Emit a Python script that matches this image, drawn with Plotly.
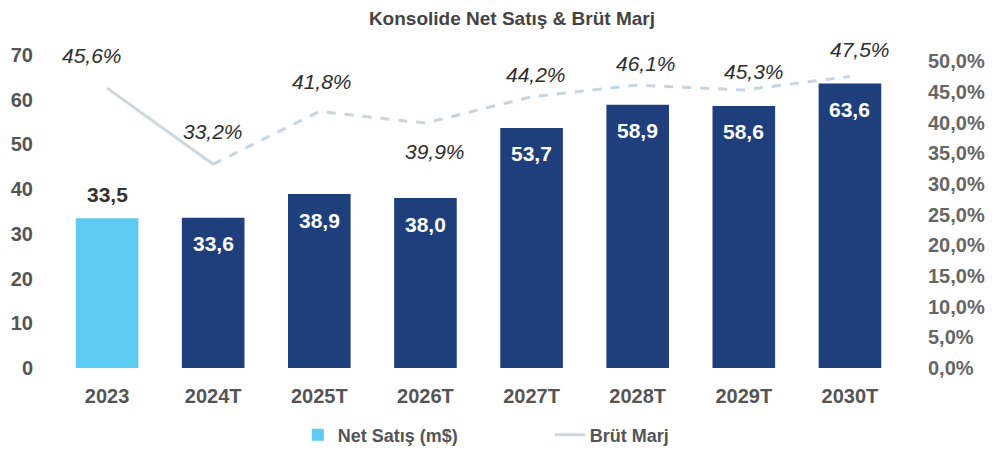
import plotly.graph_objects as go

categories = ["2023", "2024T", "2025T", "2026T", "2027T", "2028T", "2029T", "2030T"]
net_sales = [33.5, 33.6, 38.9, 38.0, 53.7, 58.9, 58.6, 63.6]
gross_margin = [0.456, 0.332, 0.418, 0.399, 0.442, 0.461, 0.453, 0.475]
left_ticks = [0, 10, 20, 30, 40, 50, 60, 70]
right_ticks = [0.0, 0.05, 0.10, 0.15, 0.20, 0.25, 0.30, 0.35, 0.40, 0.45, 0.50]

bar_colors = ["#5ccbf2"] + ["#1f3e7c"] * 7
label_shift_margin = [33, 33, 30, -28, 22, 22, 18, 27]
label_xshift_margin = [-15, 0, 3, 10, 4, 8, 10, 10]

FONT = "Liberation Sans, Arial, sans-serif"
GRAY = "#555555"

fig = go.Figure()
fig.add_trace(go.Bar(
    x=categories, y=net_sales, name="Net Satış (m$)",
    marker=dict(color=bar_colors, line=dict(width=0)),
    yaxis="y",
))
# solid first segment
fig.add_trace(go.Scatter(
    x=categories[:2], y=gross_margin[:2], name="Brüt Marj", yaxis="y2",
    mode="lines", line=dict(color="#ccd8e0", width=3), showlegend=True,
))
# dashed continuation
fig.add_trace(go.Scatter(
    x=categories[1:], y=gross_margin[1:], yaxis="y2", mode="lines",
    line=dict(color="#c5d5e1", width=3, dash="dash"), showlegend=False,
))

annotations = []
for i, v in enumerate(net_sales):
    if i == 0:
        annotations.append(dict(x=i, y=v, xref="x", yref="y", text=f"{v:.1f}".replace(".", ","),
                                showarrow=False, yshift=24,
                                font=dict(family=FONT, size=21, color="#333333", weight="bold")))
    else:
        annotations.append(dict(x=i, y=v, xref="x", yref="y", text=f"{v:.1f}".replace(".", ","),
                                showarrow=False, yshift=-26,
                                font=dict(family=FONT, size=21, color="#ffffff", weight="bold")))
for i, m in enumerate(gross_margin):
    annotations.append(dict(x=i, y=m, xref="x", yref="y2",
                            text=f"{m*100:.1f}%".replace(".", ","),
                            showarrow=False, yshift=label_shift_margin[i], xshift=label_xshift_margin[i],
                            font=dict(family=FONT, size=21, color="#2e2e2e", style="italic")))

fig.update_layout(
    width=994, height=449,
    margin=dict(l=46, r=99, t=47, b=89),
    paper_bgcolor="white", plot_bgcolor="white",
    separators=", ",
    bargap=0.41,
    font=dict(family=FONT, color=GRAY),
    title=dict(text="Konsolide Net Satış & Brüt Marj", x=0.507, xref="container", xanchor="center",
               y=0.978, yref="container", yanchor="middle",
               font=dict(family=FONT, size=19, color="#444444", weight="bold")),
    xaxis=dict(type="category", range=[-0.5, len(categories) - 0.5], showgrid=False, showline=False,
               zeroline=False, ticks="", automargin=False,
               tickfont=dict(family=FONT, size=20, color=GRAY, weight="bold"),
               ticklabelstandoff=14),
    yaxis=dict(range=[0, 70], tickvals=left_ticks, showgrid=False, showline=False, zeroline=False,
               ticks="", automargin=False,
               tickfont=dict(family=FONT, size=20, color=GRAY, weight="bold"),
               ticklabelstandoff=20),
    yaxis2=dict(range=[0, 0.51], tickvals=right_ticks, tickformat=".1%", overlaying="y", side="right",
                showgrid=False, showline=False, zeroline=False, ticks="", automargin=False,
                tickfont=dict(family=FONT, size=20, color="#666666", weight="bold"),
                ticklabelstandoff=24),
    legend=dict(orientation="h", x=0.584, xanchor="center", y=0.049, yref="container", yanchor="middle",
                font=dict(family=FONT, size=18, color=GRAY, weight="bold"),
                entrywidth=207, traceorder="normal"),
    annotations=annotations,
)

fig.write_html("out.html")
